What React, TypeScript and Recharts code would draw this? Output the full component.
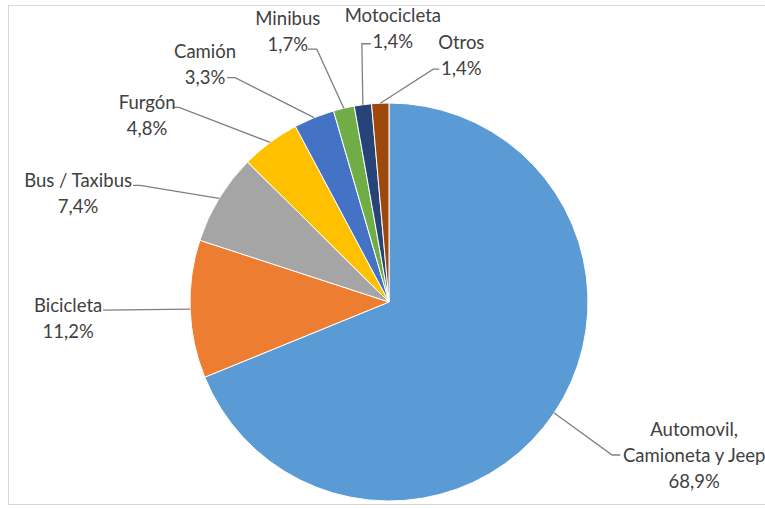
import { PieChart, Pie, Cell } from 'recharts'

const categories = [
  'Automovil,\nCamioneta y Jeep',
  'Bicicleta',
  'Bus / Taxibus',
  'Furgón',
  'Camión',
  'Minibus',
  'Motocicleta',
  'Otros',
]

const shares = [68.9, 11.2, 7.4, 4.8, 3.3, 1.7, 1.4, 1.4]

const colors = ['#5B9BD5', '#ED7D31', '#A5A5A5', '#FFC000', '#4472C4', '#70AD47', '#264478', '#9E480E']

// leader line layout, relative to the slice's outer point at midAngle
// ex/ey: elbow offset, sx: short horizontal stub, tx/ty: first text line centre from stub end
const labelLayout = [
  { ex: 58, ey: 42, sx: 8, tx: 74, ty: -26 },
  { ex: -85, ey: 1, sx: -2, tx: -35, ty: -5 },
  { ex: -79, ey: -13, sx: -7, tx: -55, ty: -5 },
  { ex: -91, ey: -35, sx: -5, tx: -27, ty: -5 },
  { ex: -79, ey: -40, sx: -8, tx: -22, ty: -27 },
  { ex: -27, ey: -59, sx: -9, tx: -20, ty: -31 },
  { ex: -1, ey: -61, sx: 9, tx: 22, ty: -29 },
  { ex: 53, ey: -34, sx: 6, tx: 22, ty: -27 },
]

const data = categories.map((name, i) => ({ name, value: shares[i] }))

const RAD = Math.PI / 180
const LINE_H = 26

const fmt = (v: number) => v.toFixed(1).replace('.', ',') + '%'

function renderLabel(props: any) {
  const { cx, cy, midAngle, outerRadius, index } = props
  const lay = labelLayout[index]
  const px = cx + outerRadius * Math.cos(-midAngle * RAD)
  const py = cy + outerRadius * Math.sin(-midAngle * RAD)
  const ex = px + lay.ex
  const ey = py + lay.ey
  const sx = ex + lay.sx
  const lines = [...String(data[index].name).split('\n'), fmt(data[index].value)]
  return (
    <g key={`lbl-${index}`}>
      <polyline
        points={`${px},${py} ${ex},${ey} ${sx},${ey}`}
        fill="none"
        stroke="#7f7f7f"
        strokeWidth={1.3}
      />
      {lines.map((t, j) => (
        <text
          key={j}
          x={sx + lay.tx}
          y={ey + lay.ty + j * LINE_H}
          textAnchor="middle"
          dominantBaseline="central"
          fill="#404040"
          fontSize={18.5}
          fontFamily="Lato, 'Open Sans', sans-serif"
        >
          {t}
        </text>
      ))}
    </g>
  )
}

export default function App() {
  return (
    <div
      style={{
        position: 'absolute',
        left: 0,
        top: 0,
        width: 765,
        height: 508,
        background: '#fff',
        overflow: 'hidden',
      }}
    >
      <div
        style={{
          position: 'absolute',
          left: 8,
          top: 5,
          width: 780,
          height: 500,
          border: '1px solid #d9d9d9',
          boxSizing: 'border-box',
        }}
      />
      <div style={{ position: 'absolute', left: 0, top: 0 }}>
        <PieChart width={765} height={508} margin={{ top: 0, right: 0, bottom: 0, left: 0 }}>
          <Pie
            data={data}
            dataKey="value"
            nameKey="name"
            cx={389}
            cy={302}
            outerRadius={199}
            startAngle={90}
            endAngle={-270}
            stroke="#fff"
            strokeWidth={1}
            label={renderLabel}
            labelLine={false}
            isAnimationActive={false}
          >
            {data.map((d, i) => (
              <Cell key={d.name} fill={colors[i]} />
            ))}
          </Pie>
        </PieChart>
      </div>
    </div>
  )
}
